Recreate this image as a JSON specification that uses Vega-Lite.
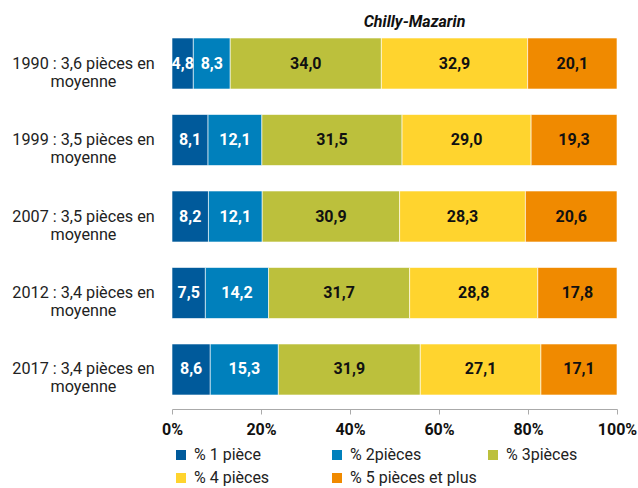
{
  "$schema": "https://vega.github.io/schema/vega-lite/v6.json",
  "width": 445,
  "height": 385,
  "autosize": {"type": "none"},
  "padding": {"left": 172, "top": 24, "right": 21, "bottom": 79},
  "background": "white",
  "title": {"text": "Chilly-Mazarin", "anchor": "middle", "dx": 20, "offset": -6, "fontSize": 16, "font": "Roboto", "fontStyle": "italic", "fontWeight": "bold", "color": "#111"},
  "config": {
    "view": {"stroke": null},
    "locale": {"number": {"decimal": ",", "thousands": " ", "grouping": [3], "currency": ["", " €"]}},
    "font": "Roboto"
  },
  "data": {"values": [
    {"annee": "1990 : 3,6 pièces en|moyenne", "cat": "% 1 pièce", "v": 4.8},
    {"annee": "1990 : 3,6 pièces en|moyenne", "cat": "% 2pièces", "v": 8.3},
    {"annee": "1990 : 3,6 pièces en|moyenne", "cat": "% 3pièces", "v": 34.0},
    {"annee": "1990 : 3,6 pièces en|moyenne", "cat": "% 4 pièces", "v": 32.9},
    {"annee": "1990 : 3,6 pièces en|moyenne", "cat": "% 5 pièces et plus", "v": 20.1},
    {"annee": "1999 : 3,5 pièces en|moyenne", "cat": "% 1 pièce", "v": 8.1},
    {"annee": "1999 : 3,5 pièces en|moyenne", "cat": "% 2pièces", "v": 12.1},
    {"annee": "1999 : 3,5 pièces en|moyenne", "cat": "% 3pièces", "v": 31.5},
    {"annee": "1999 : 3,5 pièces en|moyenne", "cat": "% 4 pièces", "v": 29.0},
    {"annee": "1999 : 3,5 pièces en|moyenne", "cat": "% 5 pièces et plus", "v": 19.3},
    {"annee": "2007 : 3,5 pièces en|moyenne", "cat": "% 1 pièce", "v": 8.2},
    {"annee": "2007 : 3,5 pièces en|moyenne", "cat": "% 2pièces", "v": 12.1},
    {"annee": "2007 : 3,5 pièces en|moyenne", "cat": "% 3pièces", "v": 30.9},
    {"annee": "2007 : 3,5 pièces en|moyenne", "cat": "% 4 pièces", "v": 28.3},
    {"annee": "2007 : 3,5 pièces en|moyenne", "cat": "% 5 pièces et plus", "v": 20.6},
    {"annee": "2012 : 3,4 pièces en|moyenne", "cat": "% 1 pièce", "v": 7.5},
    {"annee": "2012 : 3,4 pièces en|moyenne", "cat": "% 2pièces", "v": 14.2},
    {"annee": "2012 : 3,4 pièces en|moyenne", "cat": "% 3pièces", "v": 31.7},
    {"annee": "2012 : 3,4 pièces en|moyenne", "cat": "% 4 pièces", "v": 28.8},
    {"annee": "2012 : 3,4 pièces en|moyenne", "cat": "% 5 pièces et plus", "v": 17.8},
    {"annee": "2017 : 3,4 pièces en|moyenne", "cat": "% 1 pièce", "v": 8.6},
    {"annee": "2017 : 3,4 pièces en|moyenne", "cat": "% 2pièces", "v": 15.3},
    {"annee": "2017 : 3,4 pièces en|moyenne", "cat": "% 3pièces", "v": 31.9},
    {"annee": "2017 : 3,4 pièces en|moyenne", "cat": "% 4 pièces", "v": 27.1},
    {"annee": "2017 : 3,4 pièces en|moyenne", "cat": "% 5 pièces et plus", "v": 17.1}
  ]},
  "encoding": {
    "y": {
      "field": "annee", "type": "nominal", "sort": null, "title": null,
      "scale": {"paddingInner": 0.333, "paddingOuter": 0.183},
      "axis": {"domain": false, "ticks": false, "labelAlign": "center", "labelBaseline": "middle", "labelPadding": 89, "labelExpr": "split(datum.value, '|')", "labelFontSize": 16.2, "labelColor": "#222", "labelLineHeight": 18, "labelLimit": 300, "labelFont": "Roboto"}
    },
    "x": {
      "field": "v", "type": "quantitative", "stack": "normalize", "title": null,
      "axis": {"format": ".0%", "values": [0, 0.2, 0.4, 0.6, 0.8, 1], "grid": false, "domainColor": "#aaa", "tickColor": "#aaa", "tickSize": 5, "labelPadding": 7, "labelFontSize": 16, "labelFontWeight": "bold", "labelColor": "#111", "labelFont": "Roboto", "labelFlush": false}
    },
    "order": {"field": "cat", "type": "nominal", "sort": "ascending"}
  },
  "layer": [
    {
      "mark": {"type": "bar", "stroke": "white", "strokeWidth": 0.6},
      "encoding": {
        "color": {
          "field": "cat", "type": "nominal", "title": null,
          "scale": {"domain": ["% 1 pièce", "% 2pièces", "% 3pièces", "% 4 pièces", "% 5 pièces et plus"], "range": ["#005A9B", "#0080BC", "#BCC03C", "#FFD42E", "#F08A00"]},
          "legend": {"orient": "none", "legendX": 1, "legendY": 423, "direction": "horizontal", "columns": 3, "gridAlign": "all", "columnPadding": 8, "rowPadding": 7, "symbolType": "square", "symbolSize": 100, "symbolStrokeWidth": 0, "labelFontSize": 16, "labelColor": "#222", "labelFont": "Roboto", "labelOffset": 5, "padding": 0, "labelLimit": 300}
        }
      }
    },
    {
      "mark": {"type": "text", "fontSize": 16, "fontWeight": "bold", "font": "Roboto"},
      "encoding": {
        "x": {"field": "v", "type": "quantitative", "stack": "normalize", "bandPosition": 0.5},
        "detail": {"field": "cat"},
        "text": {"field": "v", "type": "quantitative", "format": ".1f"},
        "color": {"condition": {"test": "datum.cat == '% 1 pièce' || datum.cat == '% 2pièces'", "value": "white"}, "value": "#111"}
      }
    }
  ]
}
